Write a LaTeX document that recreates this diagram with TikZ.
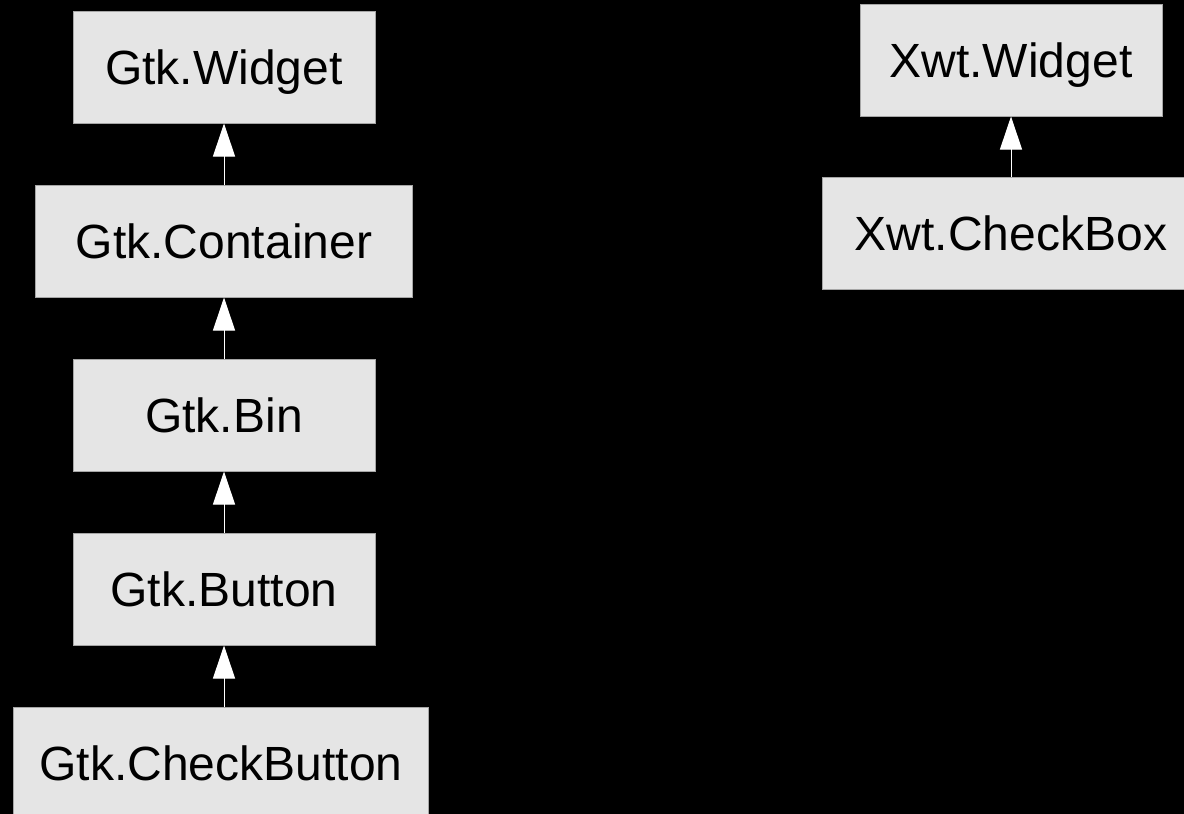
\documentclass[tikz,border=0pt]{standalone}
\usepackage{fontspec}
\setmainfont{Liberation Sans}
\usetikzlibrary{arrows.meta}
\tikzset{
  classbox/.style={draw=gray!70, fill=\BOXCOLOR, line width=1pt, inner sep=0pt,
    minimum height=112pt, text height=34pt, text depth=0pt,
    font=\fontsize{48}{57}\selectfont},
  inherit/.style={draw=white, line width=1pt, -{Triangle[width=22pt,length=33pt]}}
}
\begin{document}
\begin{tikzpicture}[x=1pt,y=-1pt]

\def\BOXCOLOR{black!10}
\def\BGCOLOR{black}
	\fill[\BGCOLOR] (0,0) rectangle (1184,814);
	\useasboundingbox (0,0) rectangle (1184,814);
	\clip (0,0) rectangle (1184,814);
	% Gtk side
	\node[classbox, minimum width=302pt] (gtkwidget) at (224,67) {Gtk.Widget};
	\node[classbox, minimum width=377pt] (gtkcontainer) at (224,241) {Gtk.Container};
	\node[classbox, minimum width=302pt] (gtkbin) at (224,415) {Gtk.Bin};
	\node[classbox, minimum width=302pt] (gtkbutton) at (224,589) {Gtk.Button};
	\node[classbox, minimum width=415pt] (gtkcheckbutton) at (221,763) {Gtk.CheckButton};
	% Xwt side
	\node[classbox, minimum width=302pt] (xwtwidget) at (1011,60) {Xwt.Widget};
	\node[classbox, minimum width=378pt] (xwtcheckbox) at (1011,233) {Xwt.CheckBox};

	\draw[inherit] (gtkcontainer.north -| gtkwidget.south) -- (gtkwidget.south);
	\draw[inherit] (gtkbin.north) -- (gtkcontainer.south);
	\draw[inherit] (gtkbutton.north) -- (gtkbin.south);
	\draw[inherit] (gtkcheckbutton.north -| gtkbutton.south) -- (gtkbutton.south);
	\draw[inherit] (xwtcheckbox.north) -- (xwtwidget.south);

\end{tikzpicture}
\end{document}
